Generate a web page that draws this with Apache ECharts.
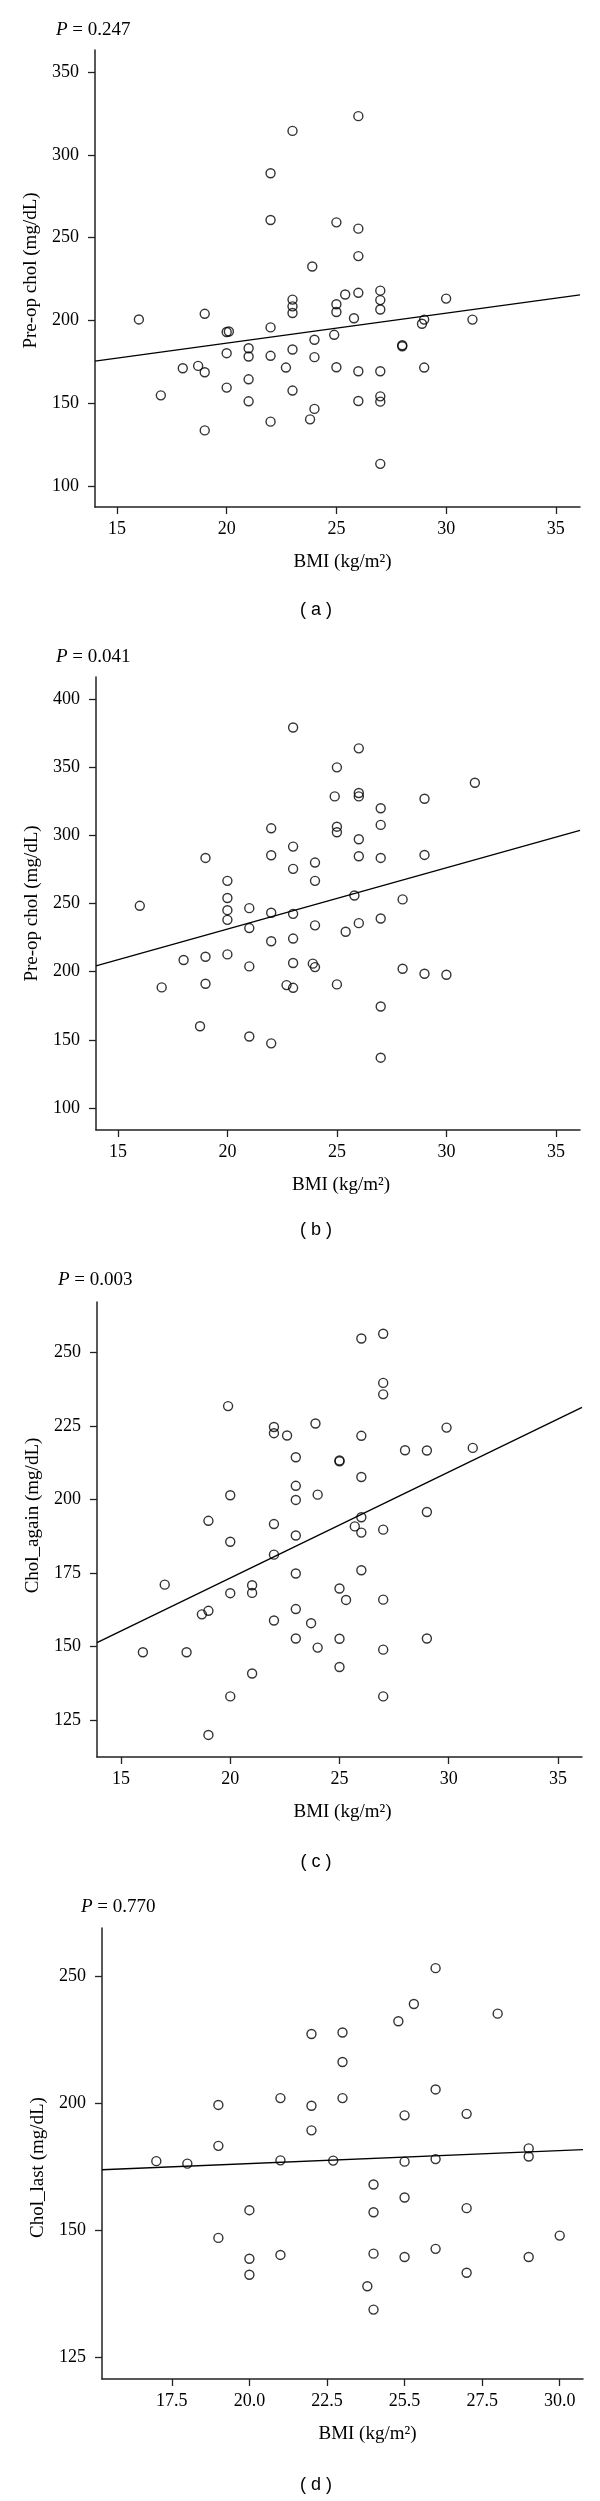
<!DOCTYPE html>
<html>
<head>
<meta charset="utf-8">
<script src="https://cdn.jsdelivr.net/npm/echarts@6/dist/echarts.min.js"></script>
<style>
  html, body { margin: 0; padding: 0; background: #fff; }
  #chart { width: 600px; height: 2501px; }
</style>
</head>
<body>
<div id="chart"></div>
<script>
// (a) BMI vs pre-op chol, P = 0.247
const pointsA = [
  [26, 323.5], [23, 314.6], [22, 289], [22, 260.7], [25, 259.3], [26, 255.5], [26, 238.9],
  [23.9, 232.6], [27, 218], [23, 212.6], [23, 208.5], [23, 204.5], [25, 209.8], [25, 205.1],
  [25.4, 215.7], [26, 216.7], [27, 212.3], [27, 206.6], [30, 213.2], [25.8, 201.3], [16, 200.6],
  [19, 204], [29, 200.5], [31.2, 200.5], [28.9, 198], [20, 193], [20.1, 193.3], [22, 195.8],
  [24.9, 191.3], [24, 188.3], [21, 183.2], [23, 182.4], [28, 184.4], [28, 185], [20, 180.2],
  [21, 178.2], [22, 178.6], [24, 177.8], [18, 171.1], [18.7, 172.5], [19, 168.7], [22.7, 171.5],
  [25, 171.7], [26, 169.3], [27, 169.3], [29, 171.5], [21, 164.4], [20, 159.4], [23, 157.6],
  [17, 154.7], [27, 154.1], [27, 150.9], [21, 151.1], [26, 151.3], [24, 146.5], [23.8, 140.2],
  [22, 138.8], [19, 133.5], [27, 113.3]
];
const fitA = [[14, 175.4], [36.1, 215.4]];

// (b) BMI vs pre-op chol, P = 0.041
const pointsB = [
  [23, 379], [26, 363.7], [25, 349.8], [24.9, 328.5], [26, 331], [26, 328.5], [29, 326.8],
  [31.3, 338.5], [27, 319.8], [25, 306.3], [25, 302.2], [27, 307.6], [22, 305.1], [26, 297.1],
  [23, 291.7], [22, 285.4], [26, 284.6], [27, 283.4], [29, 285.6], [19, 283.4], [24, 280],
  [23, 275.4], [20, 266.6], [24, 266.6], [20, 254], [25.8, 255.9], [28, 253], [16, 248.3],
  [20, 245.1], [21, 246.6], [22, 243.2], [23, 242.4], [20, 238], [21, 232], [24, 234],
  [26, 235.6], [27, 239], [25.4, 229.3], [22, 222.3], [23, 224.3], [18, 208.6], [19, 211],
  [20, 212.7], [21, 203.9], [23, 206.4], [23.9, 205.9], [24, 203.4], [28, 202.2], [29, 198.5],
  [30, 197.8], [17, 188.5], [19, 191.2], [22.7, 190.2], [23, 188.2], [25, 190.7], [27, 174.5],
  [18.75, 160], [21, 152.5], [22, 147.5], [27, 137]
];
const fitB = [[14, 204.2], [36.1, 303.6]];

// (c) BMI vs Chol_again, P = 0.003
const pointsC = [
  [27, 256.4], [26, 254.8], [27, 239.7], [27, 235.8], [19.9, 231.8], [23.9, 225.9], [22, 224.7],
  [22, 222.6], [22.6, 221.8], [26, 221.7], [29.9, 224.5], [28, 216.8], [29, 216.7], [31.1, 217.6],
  [23, 214.4], [25, 213.3], [25, 213], [26, 207.7], [23, 204.7], [23, 199.9], [20, 201.5],
  [24, 201.7], [19, 192.8], [22, 191.7], [29, 195.8], [26, 194], [25.7, 190.9], [26, 188.8],
  [27, 189.8], [23, 187.8], [20, 185.7], [22, 181.3], [23, 174.9], [26, 176], [17, 171.1],
  [21, 170.9], [21, 168.3], [20, 168.2], [25, 169.8], [25.3, 165.9], [27, 166], [18.7, 161],
  [19, 162.2], [23, 162.8], [22, 158.9], [23.7, 158], [16, 148.1], [18, 148.1], [23, 152.8],
  [24, 149.7], [25, 152.7], [27, 149], [29, 152.8], [21, 140.9], [25, 143.1], [20, 133.1],
  [27, 133.1], [19, 120]
];
const fitC = [[13.9, 151.4], [36.1, 231.4]];

// (d) BMI vs Chol_last, P = 0.770
const pointsD = [
  [26, 253.1], [25.3, 239], [24.8, 232.2], [28, 235.2], [22, 227.2], [23, 227.8], [23, 216.2],
  [21, 202], [23, 202], [22, 199], [19, 199.3], [26, 205.4], [25, 195.2], [27, 195.8],
  [22, 189.3], [19, 183.2], [29, 182.2], [29, 179], [17, 177.2], [18, 176.2], [21, 177.5],
  [22.7, 177.4], [25, 177], [26, 178], [24, 168], [25, 162.9], [20, 157.9], [24, 157.1],
  [27, 158.7], [19, 147], [30, 147.9], [20, 138.8], [21, 140.3], [24, 140.8], [25, 139.5],
  [26, 142.7], [29, 139.5], [20, 132.5], [27, 133.3], [23.8, 128], [24, 118.8]
];
const fitD = [[15.25, 173.8], [30.75, 181.7]];

// tick values and the text printed at them
const xTicksABC = [15, 20, 25, 30, 35];
const yTicksA = [100, 150, 200, 250, 300, 350];
const yTicksB = [100, 150, 200, 250, 300, 350, 400];
const yTicksC = [125, 150, 175, 200, 225, 250];
const xTicksD = [17.5, 20, 22.5, 25, 27.5, 30];
const xTickTextD = ['17.5', '20.0', '22.5', '25.5', '27.5', '30.0'];
const yTicksD = [100, 150, 200, 250];
const yTickTextD = ['125', '150', '200', '250'];

const pValues = ['0.247', '0.041', '0.003', '0.770'];
const panelTags = ['( a )', '( b )', '( c )', '( d )'];
const yNames = ['Pre-op chol (mg/dL)', 'Pre-op chol (mg/dL)', 'Chol_again (mg/dL)', 'Chol_last (mg/dL)'];

const serif = 'Liberation Serif';
const ink = '#000';

const grids = [
  { left: 95, top: 50, width: 485, height: 457 },
  { left: 96, top: 677, width: 484, height: 453 },
  { left: 97, top: 1302, width: 485, height: 455 },
  { left: 102, top: 1928, width: 481, height: 451 }
];
const xRanges = [[14, 36.1], [14, 36.1], [13.9, 36.1], [15.25, 30.75]];
const yRanges = [[87.2, 363.5], [84, 416], [112.5, 267.2], [91.5, 268.9]];
const pPos = [[56, 20], [56, 647], [58, 1270], [81, 1897]];
const tagY = [610, 1230, 1862, 2485];
const xNamePad = [[0, 0, 0, 10], [0, 0, 0, 6], [0, 0, 0, 6], [0, 0, 0, 50]];
const yNamePad = [[0, 0, 0, 16], [0, 0, 0, 0], [0, 0, 0, 28], [0, 28, 0, 0]];

function tickText(values, texts) {
  return function (v) {
    const i = values.findIndex(t => Math.abs(t - v) < 1e-6);
    return i >= 0 ? texts[i] : '';
  };
}

const xTickSets = [xTicksABC, xTicksABC, xTicksABC, xTicksD];
const yTickSets = [yTicksA, yTicksB, yTicksC, yTicksD];

const xAxis = grids.map((g, i) => ({
  gridIndex: i,
  type: 'value',
  min: xRanges[i][0],
  max: xRanges[i][1],
  name: 'BMI (kg/m²)',
  nameLocation: 'middle',
  nameGap: 46,
  nameTextStyle: { fontFamily: serif, fontSize: 19, color: ink, padding: xNamePad[i] },
  splitLine: { show: false },
  axisLine: { onZero: false, lineStyle: { color: '#222', width: 1.5 } },
  axisTick: { length: 7, lineStyle: { color: '#222', width: 1.3 }, customValues: xTickSets[i] },
  axisLabel: {
    customValues: xTickSets[i],
    margin: 13,
    fontFamily: serif, fontSize: 18, color: ink,
    formatter: i === 3 ? tickText(xTicksD, xTickTextD) : (v => String(v))
  }
}));

const yAxis = grids.map((g, i) => ({
  gridIndex: i,
  type: 'value',
  min: yRanges[i][0],
  max: yRanges[i][1],
  name: yNames[i],
  nameLocation: 'middle',
  nameGap: 54,
  nameTextStyle: { fontFamily: serif, fontSize: 19, color: ink, padding: yNamePad[i] },
  splitLine: { show: false },
  axisLine: { onZero: false, lineStyle: { color: '#222', width: 1.5 } },
  axisTick: { length: 7, lineStyle: { color: '#222', width: 1.3 }, customValues: yTickSets[i] },
  axisLabel: {
    customValues: yTickSets[i],
    margin: 16,
    fontFamily: serif, fontSize: 18, color: ink,
    formatter: i === 3 ? tickText(yTicksD, yTickTextD) : (v => String(v))
  }
}));

const allPoints = [pointsA, pointsB, pointsC, pointsD];
const allFits = [fitA, fitB, fitC, fitD];
const series = [];
allPoints.forEach((pts, i) => {
  series.push({
    type: 'scatter',
    xAxisIndex: i, yAxisIndex: i,
    symbol: 'circle', symbolSize: 9,
    itemStyle: { color: 'rgba(0,0,0,0)', borderColor: ink, borderWidth: 1.4 },
    emphasis: { disabled: true },
    data: pts
  });
  series.push({
    type: 'line',
    xAxisIndex: i, yAxisIndex: i,
    symbol: 'none',
    lineStyle: { color: ink, width: 1.3 },
    emphasis: { disabled: true },
    data: allFits[i]
  });
});

const title = pValues.map((p, i) => ({
  text: '{i|P} = ' + p,
  left: pPos[i][0], top: pPos[i][1],
  padding: 0,
  textStyle: {
    fontFamily: serif, fontSize: 19, fontWeight: 'normal', color: ink, lineHeight: 20,
    rich: { i: { fontFamily: serif, fontSize: 19, fontStyle: 'italic', color: ink, lineHeight: 20 } }
  }
}));

const graphic = panelTags.map((t, i) => ({
  type: 'text',
  x: 316, y: tagY[i],
  style: {
    text: t, fill: ink,
    font: '18px "Liberation Sans"',
    align: 'center', verticalAlign: 'middle'
  }
}));

const chart = echarts.init(document.getElementById('chart'));
chart.setOption({
  animation: false,
  backgroundColor: '#fff',
  title: title,
  graphic: graphic,
  grid: grids,
  xAxis: xAxis,
  yAxis: yAxis,
  series: series
});
</script>
</body>
</html>
